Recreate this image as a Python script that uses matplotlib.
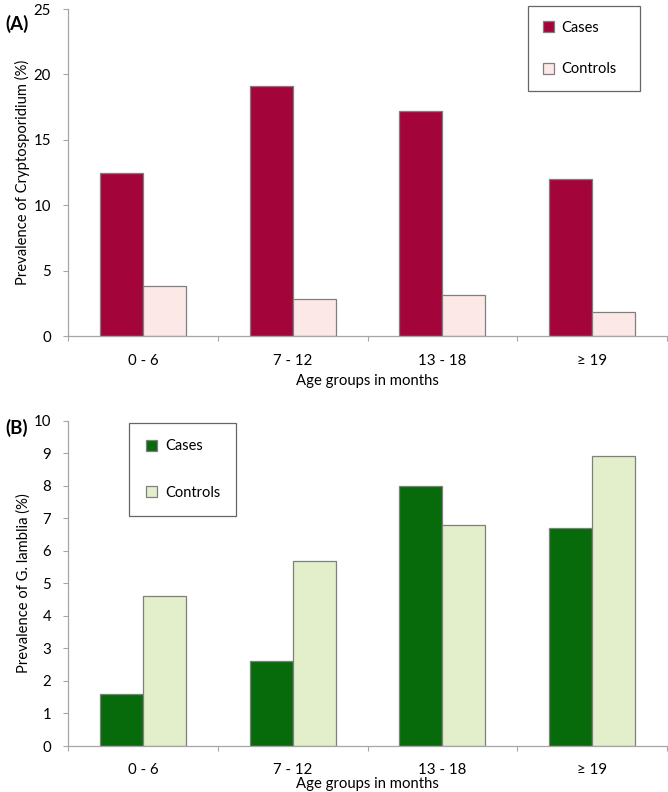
import matplotlib
matplotlib.use("Agg")
import matplotlib.pyplot as plt
import numpy as np

categories = ["0 - 6", "7 - 12", "13 - 18", "≥ 19"]
crypto_cases = [12.5, 19.1, 17.2, 12.0]
crypto_controls = [3.8, 2.8, 3.1, 1.8]
giardia_cases = [1.6, 2.6, 8.0, 6.7]
giardia_controls = [4.6, 5.7, 6.8, 8.9]
series_labels = ["Cases", "Controls"]

plt.rcParams['font.family'] = ['Lato', 'DejaVu Sans']

W, H = 668, 792
fig = plt.figure(figsize=(W / 100, H / 100), dpi=100)

def px_axes(left, top, right, bottom):
    return fig.add_axes([left / W, 1 - bottom / H, (right - left) / W, (bottom - top) / H])

axA = px_axes(68, 9, 667, 336)
axB = px_axes(68, 420.7, 667, 746)

x = np.arange(len(categories))
w = 0.287
edge = "#7f7f7f"
spine_c = "#a6a6a6"

def style(ax, ymax, step, ylabel, legbox, lspace, c_case, c_ctrl, cases, ctrls, tag, tagy, xlpad, bpad):
    ax.bar(x - w / 2, cases, w, color=c_case, edgecolor=edge, linewidth=0.9, label=series_labels[0])
    ax.bar(x + w / 2, ctrls, w, color=c_ctrl, edgecolor=edge, linewidth=0.9, label=series_labels[1])
    ax.set_xlim(-0.5, len(categories) - 0.5)
    ax.set_ylim(0, ymax)
    ax.set_yticks(np.arange(0, ymax + 0.01, step))
    ax.set_xticks(np.arange(-0.5, len(categories)), minor=False)
    ax.set_xticklabels([])
    ax.set_xticks(x, minor=True)
    ax.set_xticklabels(categories, minor=True, fontsize=10.8)
    ax.tick_params(axis='x', which='minor', length=0, pad=12.6)
    ax.tick_params(axis='x', which='major', length=3.8, color=spine_c, direction='out')
    ax.tick_params(axis='y', length=3.5, color=spine_c, labelsize=10.8, pad=8.7)
    for s in ['top', 'right']:
        ax.spines[s].set_visible(False)
    for s in ['left', 'bottom']:
        ax.spines[s].set_color(spine_c)
        ax.spines[s].set_linewidth(0.9)
    ax.set_ylabel(ylabel, fontsize=10.6)
    ax.yaxis.set_label_coords(-0.063, 0.5)
    ax.set_xlabel("Age groups in months", fontsize=10.7, labelpad=xlpad)
    leg = ax.legend(loc='upper left', bbox_to_anchor=legbox, mode='expand', frameon=True, fancybox=False,
                    fontsize=10.5, labelspacing=lspace, handlelength=0.75, handleheight=0.75,
                    handletextpad=0.55, borderpad=bpad, borderaxespad=0)
    leg.get_frame().set_edgecolor("#404040")
    leg.get_frame().set_linewidth(0.9)
    ax.text(-0.105, tagy, tag, transform=ax.transAxes, fontsize=13.5, fontweight='bold', va='center')

style(axA, 25, 5, "Prevalence of Cryptosporidium (%)", (0.768, 1.009, 0.187, 0.0), 1.9,
      "#a3053a", "#fde8e8", crypto_cases, crypto_controls, "(A)", 0.955, 4.6, 1.0)
style(axB, 10, 1, "Prevalence of G. lamblia (%)", (0.102, 0.994, 0.178, 0.0), 2.2,
      "#086b0b", "#e2efca", giardia_cases, giardia_controls, "(B)", 0.978, -0.5, 1.15)

fig.savefig("out.png", dpi=100)
